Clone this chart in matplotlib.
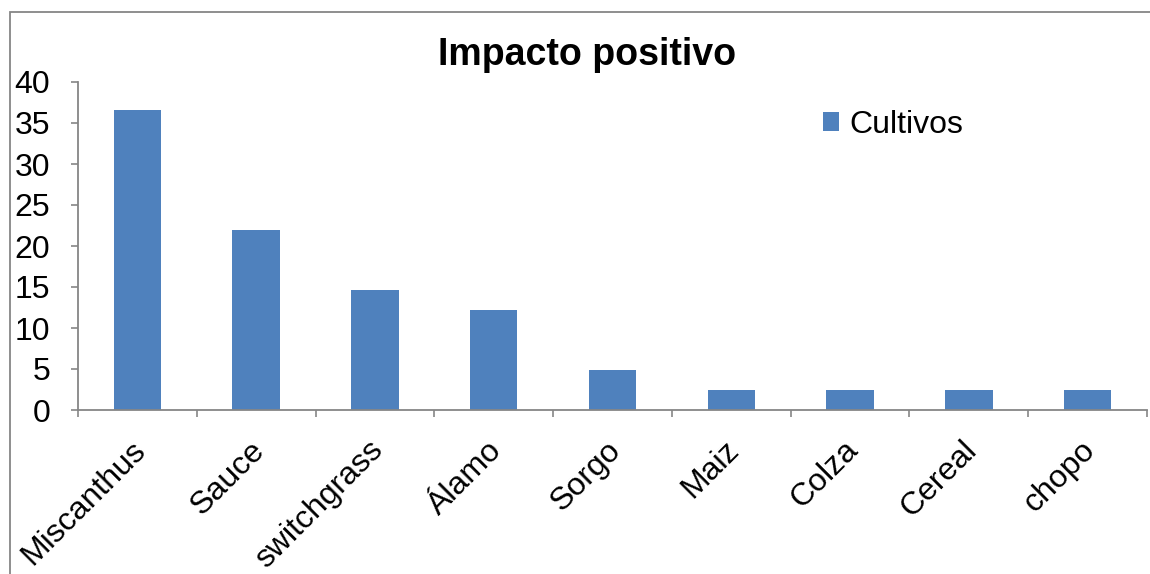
import matplotlib
matplotlib.use("Agg")
import matplotlib.pyplot as plt
from matplotlib.patches import Rectangle
from matplotlib.transforms import ScaledTranslation

plt.rcParams['font.family'] = ['Liberation Sans', 'DejaVu Sans']

categories = ["Miscanthus", "Sauce", "switchgrass", "Álamo", "Sorgo",
              "Maiz", "Colza", "Cereal", "chopo"]
values = [36.59, 21.95, 14.63, 12.20, 4.88, 2.44, 2.44, 2.44, 2.44]
series_name = "Cultivos"
title = "Impacto positivo"
yticks = [0, 5, 10, 15, 20, 25, 30, 35, 40]

W, H = 1150, 574
fig = plt.figure(figsize=(W / 100, H / 100), dpi=100)
fig.patch.set_facecolor("white")

# outer chart frame (open to the right and bottom)
fig.add_artist(Rectangle((10 / W, -0.1), 1.2, 1 - 12 / H + 0.1,
                         transform=fig.transFigure, fill=False,
                         edgecolor="#868686", linewidth=1.3))

ax = fig.add_axes([78 / W, 1 - 410 / H, (1147 - 78) / W, (410 - 82) / H])
x = list(range(len(categories)))
ax.bar(x, values, width=0.4, color="#4F81BD", label=series_name, zorder=2)

ax.set_xlim(-0.5, len(categories) - 0.5)
ax.set_ylim(0, 40)
ax.set_yticks(yticks)
ax.set_yticklabels([str(v) for v in yticks], fontsize=23)

# category ticks sit between bars; labels sit at bar centres
ax.set_xticks([i - 0.5 for i in range(len(categories) + 1)])
ax.set_xticklabels([])
ax.set_xticks(x, minor=True)
ax.set_xticklabels(categories, minor=True, rotation=45, ha="right",
                   va="top", rotation_mode="anchor", fontsize=23)
ax.tick_params(axis="x", which="minor", length=0, pad=16)
ax.tick_params(axis="x", which="major", length=5, width=1.2,
               color="#868686", direction="out")
ax.tick_params(axis="y", length=5, width=1.2, color="#868686",
               direction="out", pad=15)
shift = ScaledTranslation(-7 / 100, -3 / 100, fig.dpi_scale_trans)
for lbl in ax.get_xticklabels(minor=True):
    lbl.set_transform(lbl.get_transform() + shift)

for s in ("top", "right"):
    ax.spines[s].set_visible(False)
for s in ("left", "bottom"):
    ax.spines[s].set_color("#868686")
    ax.spines[s].set_linewidth(1.3)

fig.text(587 / W, 1 - 55 / H, title, ha="center", va="center",
         fontsize=27, fontweight="bold")

ax.legend(loc="center left", bbox_to_anchor=(732 / (1147 - 78), (410 - 125) / (410 - 82)),
          frameon=False, fontsize=23, handlelength=0.52, handleheight=0.52,
          handletextpad=0.3, borderaxespad=0)

fig.savefig("out.png", dpi=100, facecolor="white")
